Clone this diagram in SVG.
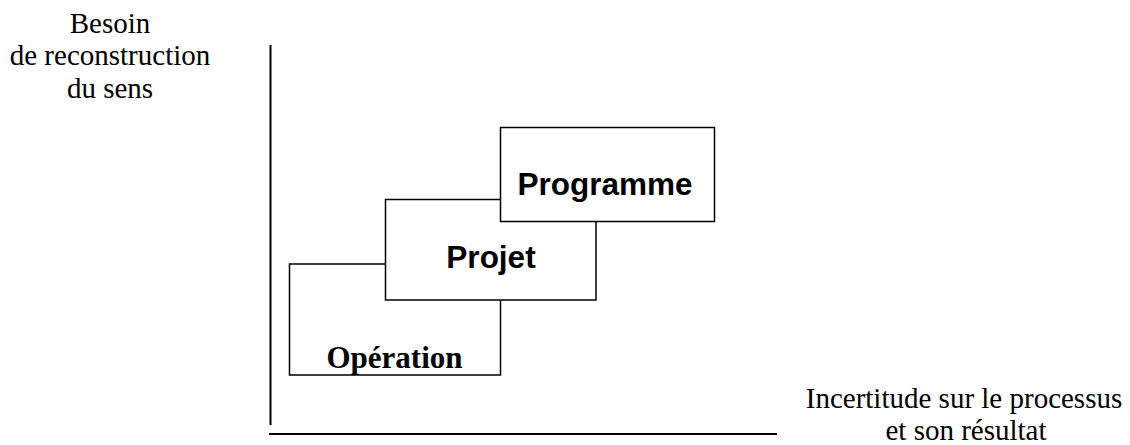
<svg xmlns="http://www.w3.org/2000/svg" width="1130" height="445" viewBox="0 0 1130 445">
  <style>
    .axis { stroke: #000; stroke-width: 2; fill: none; }
    .box { fill: #fff; stroke: #000; stroke-width: 1.5; }
    .lbl { font-family: "Liberation Serif", "Times New Roman", serif; font-size: 29px; fill: #000; text-anchor: middle; }
    .sans { font-family: "Liberation Sans", Arial, sans-serif; font-size: 31.5px; font-weight: bold; fill: #000; text-anchor: middle; }
    .serifb { font-family: "Liberation Serif", "Times New Roman", serif; font-size: 31px; font-weight: bold; fill: #000; text-anchor: middle; }
  </style>
  <rect width="1130" height="445" fill="#fff"/>
  <g id="connectors">
    <line class="axis" x1="270.5" y1="45" x2="270.5" y2="425"/>
    <line class="axis" x1="269" y1="434" x2="777" y2="434"/>
  </g>
  <g id="y-label">
    <text class="lbl" x="110" y="33">Besoin</text>
    <text class="lbl" x="110" y="65">de reconstruction</text>
    <text class="lbl" x="110" y="98">du sens</text>
  </g>
  <g id="x-label">
    <text class="lbl" x="964" y="408">Incertitude sur le processus</text>
    <text class="lbl" x="966" y="440">et son résultat</text>
  </g>
  <g id="operation">
    <rect class="box" x="289.5" y="264" width="211" height="111"/>
    <text class="serifb" x="394.5" y="368">Opération</text>
  </g>
  <g id="projet">
    <rect class="box" x="385.5" y="199.5" width="210.5" height="100.5"/>
    <text class="sans" x="491" y="268">Projet</text>
  </g>
  <g id="programme">
    <rect class="box" x="500.5" y="127.5" width="214" height="94"/>
    <text class="sans" x="605" y="195">Programme</text>
  </g>
</svg>
